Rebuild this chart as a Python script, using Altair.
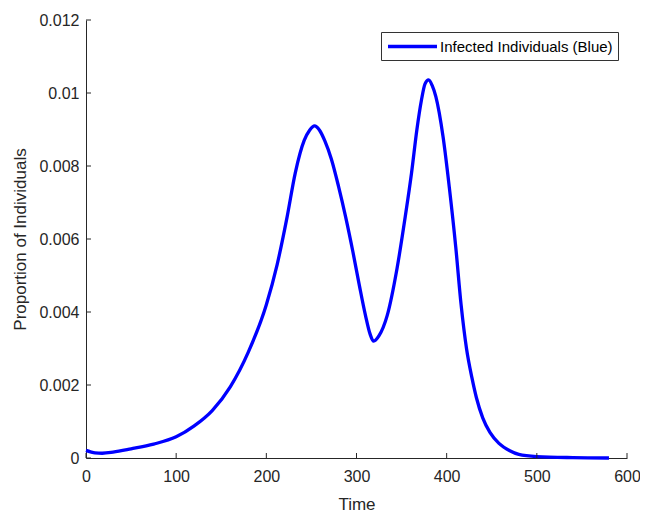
import altair as alt
import pandas as pd

# ---- data ----
time = [0, 5, 10, 18, 30, 50, 75, 100, 120, 140, 160, 180, 200, 212, 223, 232,
        242, 248, 253.5, 259, 265, 272, 280, 288, 296, 303, 310, 315, 319,
        325, 334, 345, 354, 361, 367, 372, 376, 380, 384, 388, 396, 403, 410,
        416, 422, 428, 433, 440, 448, 458, 470, 480, 500, 540, 580]
infected = [0.00021, 0.00017, 0.00014, 0.00013, 0.00016, 0.00025, 0.00038,
            0.00058, 0.00088, 0.0013, 0.00195, 0.0029, 0.0042, 0.0053,
            0.0066, 0.0078, 0.0087, 0.00898, 0.0091, 0.00898, 0.00868,
            0.0082, 0.00745, 0.0066, 0.00565, 0.00475, 0.0039, 0.0034,
            0.0032, 0.00335, 0.0039, 0.0052, 0.0066, 0.0078, 0.0090, 0.0098,
            0.01025, 0.01036, 0.0102, 0.0099, 0.0088, 0.0074, 0.0058, 0.0042,
            0.0030, 0.0022, 0.00165, 0.0011, 0.0007, 0.0004, 0.0002, 0.0001,
            0.00004, 0.00001, 0.0]
x_ticks = [0, 100, 200, 300, 400, 500, 600]
y_ticks = [0, 0.002, 0.004, 0.006, 0.008, 0.01, 0.012]
series_name = "Infected Individuals (Blue)"

df = pd.DataFrame({"Time": time, "Proportion": infected, "Series": series_name})
xt = pd.DataFrame({"Time": x_ticks})
yt = pd.DataFrame({"Proportion": y_ticks})

FONT = "Liberation Sans"
INK = "#262626"
W, H = 541, 438

xscale = alt.Scale(domain=[0, 600], nice=False, zero=False)
yscale = alt.Scale(domain=[0, 0.012], nice=False)

x_axis = alt.Axis(values=x_ticks, format="d", title="Time", labelFlush=False,
                  labelPadding=10, titlePadding=12)
y_axis = alt.Axis(values=y_ticks, format="~g", title="Proportion of Individuals",
                  labelFlush=False, labelPadding=7, titlePadding=9)

line = alt.Chart(df).mark_line(strokeWidth=3.3, interpolate="monotone").encode(
    x=alt.X("Time:Q", scale=xscale, axis=x_axis),
    y=alt.Y("Proportion:Q", scale=yscale, axis=y_axis),
    color=alt.Color("Series:N",
                    scale=alt.Scale(domain=[series_name], range=["#0000ff"]),
                    legend=alt.Legend(title=None, orient="none",
                                      legendX=295, legendY=12,
                                      symbolType="M-1,0L5.533,0", symbolSize=225,
                                      symbolStrokeWidth=3.3,
                                      labelOffset=35, padding=5, labelLimit=0,
                                      strokeColor="#333333",
                                      labelFont=FONT, labelFontSize=15,
                                      labelColor="#000000")),
)

xtick_marks = alt.Chart(xt).mark_rule(color=INK, strokeWidth=1).encode(
    x=alt.X("Time:Q", scale=xscale, axis=x_axis),
    y=alt.value(H - 5), y2=alt.value(H),
)
ytick_marks = alt.Chart(yt).mark_rule(color=INK, strokeWidth=1).encode(
    y=alt.Y("Proportion:Q", scale=yscale, axis=y_axis),
    x=alt.value(0), x2=alt.value(5),
)

chart = alt.layer(line, xtick_marks, ytick_marks).properties(
    width=W, height=H,
    autosize=alt.AutoSizeParams(type="none"),
    padding={"left": 78, "top": 12, "right": 13, "bottom": 54},
    background="white",
).configure_view(stroke=None).configure_axis(
    grid=False, ticks=False, tickSize=0,
    domainColor=INK, domainWidth=1,
    labelFont=FONT, labelFontSize=16, labelColor=INK,
    titleFont=FONT, titleFontSize=17, titleColor=INK, titleFontWeight="normal",
)

chart.save("out.html", embed_options={"renderer": "svg", "actions": False})
